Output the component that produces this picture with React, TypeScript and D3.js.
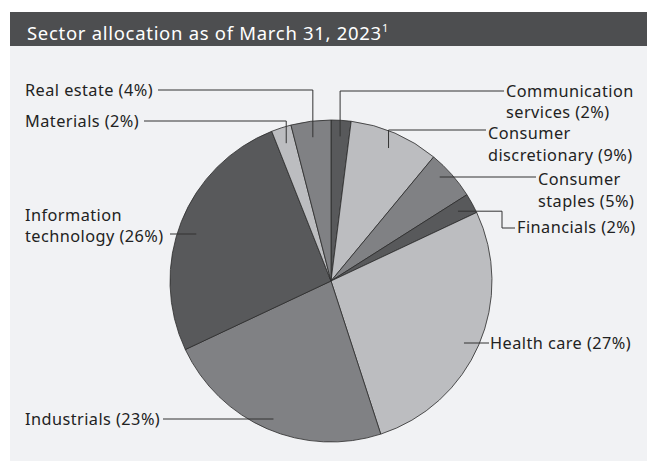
import React from "react";
import * as d3 from "d3";

// sector allocation, clockwise from 12 o'clock
const sectors = [
  "Communication services",
  "Consumer discretionary",
  "Consumer staples",
  "Financials",
  "Health care",
  "Industrials",
  "Information technology",
  "Materials",
  "Real estate",
];
const weights = [2, 9, 5, 2, 27, 23, 26, 2, 4];
const labelLines = [
  ["Communication", "services (2%)"],
  ["Consumer", "discretionary (9%)"],
  ["Consumer", "staples (5%)"],
  ["Financials (2%)"],
  ["Health care (27%)"],
  ["Industrials (23%)"],
  ["Information", "technology (26%)"],
  ["Materials (2%)"],
  ["Real estate (4%)"],
];
const shades = ["#58595b", "#bcbdc0", "#808184", "#58595b", "#bcbdc0", "#808184", "#58595b", "#bcbdc0", "#808184"];

// label placement: text x, first baseline, line gap, leader y, leader end x, kind
const layout = [
  { x: 506, y: 97, gap: 21, ly: 91, lx: 504, kind: "up" },
  { x: 488, y: 138.5, gap: 22, ly: 130, lx: 486, kind: "up" },
  { x: 538, y: 184.5, gap: 22, ly: 177, lx: 536, kind: "flat" },
  { x: 517, y: 233, gap: 22, ly: 228, lx: 515, kind: "step" },
  { x: 490, y: 349, gap: 22, ly: 343, lx: 489, kind: "flat" },
  { x: 25, y: 425, gap: 22, ly: 419, lx: 163, kind: "flat" },
  { x: 25, y: 221, gap: 21, ly: 234, lx: 170, kind: "flat" },
  { x: 25, y: 127, gap: 22, ly: 121, lx: 144, kind: "up" },
  { x: 25, y: 96, gap: 22, ly: 90, lx: 158, kind: "up" },
];

const W = 647;
const H = 461;
const cx = 331;
const cy = 281;
const R = 161;
const font = "'Noto Sans', sans-serif";

export default function App() {
  const pie = d3
    .pie<number>()
    .sort(null)
    .value((d) => d)
    .startAngle(0)
    .endAngle(2 * Math.PI);
  const arcs = pie(weights);
  const arc = d3.arc<d3.PieArcDatum<number>>().innerRadius(0).outerRadius(R);
  const anchorArc = d3
    .arc<d3.PieArcDatum<number>>()
    .innerRadius(R * 0.9)
    .outerRadius(R * 0.9);

  const leader = (i: number) => {
    const [ax0, ay0] = anchorArc.centroid(arcs[i]);
    const ax = ax0 + cx;
    const ay = ay0 + cy;
    const L = layout[i];
    const p = d3.path();
    if (L.kind === "up") {
      p.moveTo(ax, ay);
      p.lineTo(ax, L.ly);
      p.lineTo(L.lx, L.ly);
    } else if (L.kind === "step") {
      p.moveTo(ax, ay);
      p.lineTo(502, ay);
      p.lineTo(502, L.ly);
      p.lineTo(L.lx, L.ly);
    } else {
      p.moveTo(ax, L.ly);
      p.lineTo(L.lx, L.ly);
    }
    return p.toString();
  };

  return (
    <svg
      width={W}
      height={H}
      style={{ position: "absolute", left: 0, top: 0 }}
      fontFamily={font}
    >
      <rect x={0} y={0} width={W} height={H} fill="#ffffff" />
      <rect x={10} y={46} width={W - 10} height={H - 46} fill="#f1f2f4" />
      <rect x={10} y={12} width={W - 10} height={34} fill="#4d4e50" />
      <text x={27} y={39.5} fill="#ffffff" fontSize={18.5} letterSpacing={0.7}>
        Sector allocation as of March 31, 2023
        <tspan fontSize={11} dy={-8} letterSpacing={0}>1</tspan>
      </text>

      <g transform={`translate(${cx},${cy})`}>
        {arcs.map((a, i) => (
          <path
            key={sectors[i]}
            d={arc(a) || ""}
            fill={shades[i]}
            stroke="#2b2b2b"
            strokeWidth={0.8}
          />
        ))}
      </g>

      {arcs.map((a, i) => (
        <path
          key={"l" + sectors[i]}
          d={leader(i)}
          fill="none"
          stroke="#333333"
          strokeWidth={1}
        />
      ))}

      {labelLines.map((lines, i) => (
        <text
          key={"t" + sectors[i]}
          x={layout[i].x}
          y={layout[i].y}
          fontSize={16.3}
          letterSpacing={0.45}
          fill="#222222"
        >
          {lines.map((s, j) => (
            <tspan key={j} x={layout[i].x} dy={j === 0 ? 0 : layout[i].gap}>
              {s}
            </tspan>
          ))}
        </text>
      ))}
    </svg>
  );
}
